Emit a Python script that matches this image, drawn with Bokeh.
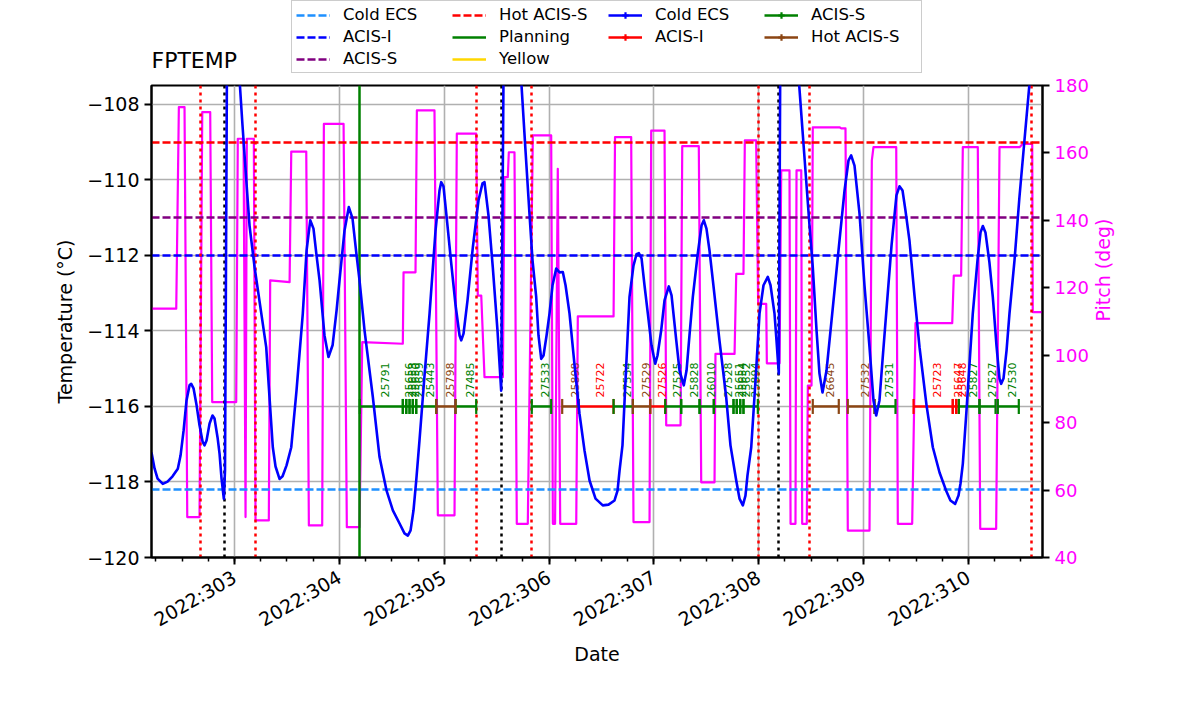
import math
from bokeh.plotting import figure
from bokeh.layouts import column
from bokeh.models import Range1d, LinearAxis, FixedTicker, Legend, LegendItem, ColumnDataSource, Label
from bokeh.core.properties import value
from bokeh.embed import file_html
from bokeh.resources import INLINE

FONT = "DejaVu Sans"

# ---------------- data ----------------
day_ticks = [303, 304, 305, 306, 307, 308, 309, 310]
day_labels = ["2022:303", "2022:304", "2022:305", "2022:306", "2022:307", "2022:308", "2022:309", "2022:310"]
temp_ticks = [-120, -118, -116, -114, -112, -110, -108]
temp_labels = ["\u2212120", "\u2212118", "\u2212116", "\u2212114", "\u2212112", "\u2212110", "\u2212108"]
pitch_ticks = [40, 60, 80, 100, 120, 140, 160, 180]

temp_time = [302.208, 302.237, 302.266, 302.316, 302.361, 302.409, 302.459, 302.485, 302.514, 302.542,
             302.571, 302.587, 302.609, 302.638, 302.666, 302.695, 302.714, 302.733, 302.762, 302.790,
             302.809, 302.838, 302.857, 302.876, 302.898, 302.909, 302.927, 302.981, 303.048, 303.076,
             303.112, 303.143, 303.191, 303.302, 303.365, 303.391, 303.429, 303.458, 303.496, 303.541,
             303.591, 303.651, 303.687, 303.722, 303.753, 303.782, 303.811, 303.858, 303.896, 303.935,
             303.973, 304.001, 304.049, 304.090, 304.125, 304.164, 304.192, 304.240, 304.319, 304.383,
             304.450, 304.510, 304.574, 304.621, 304.653, 304.679, 304.707, 304.733, 304.764, 304.812,
             304.860, 304.917, 304.955, 304.971, 304.993, 305.031, 305.067, 305.108, 305.146, 305.162,
             305.184, 305.222, 305.273, 305.327, 305.365, 305.384, 305.422, 305.463, 305.508, 305.543,
             305.565, 305.642, 305.734, 305.775, 305.813, 305.842, 305.877, 305.899, 305.925, 305.947,
             305.976, 306.004, 306.033, 306.068, 306.100, 306.131, 306.157, 306.195, 306.243, 306.290,
             306.338, 306.386, 306.443, 306.512, 306.567, 306.624, 306.653, 306.672, 306.700, 306.729,
             306.767, 306.805, 306.834, 306.856, 306.882, 306.910, 306.942, 306.977, 307.012, 307.034,
             307.069, 307.101, 307.142, 307.168, 307.213, 307.244, 307.285, 307.311, 307.339, 307.371,
             307.416, 307.454, 307.476, 307.501, 307.530, 307.562, 307.625, 307.689, 307.730, 307.785,
             307.816, 307.848, 307.873, 307.892, 307.928, 307.969, 308.007, 308.045, 308.086, 308.112,
             308.150, 308.169, 308.191, 308.204, 308.293, 308.382, 308.417, 308.452, 308.484, 308.515,
             308.551, 308.579, 308.608, 308.646, 308.694, 308.732, 308.770, 308.818, 308.856, 308.881,
             308.913, 308.961, 309.008, 309.056, 309.094, 309.120, 309.151, 309.180, 309.215, 309.266,
             309.313, 309.342, 309.371, 309.399, 309.437, 309.485, 309.533, 309.600, 309.660, 309.724,
             309.787, 309.828, 309.873, 309.905, 309.924, 309.946, 309.981, 310.041, 310.086, 310.115,
             310.137, 310.162, 310.200, 310.232, 310.267, 310.296, 310.312, 310.334, 310.363, 310.391,
             310.439, 310.486, 310.534, 310.582, 310.706]
fptemp = [-117.22, -117.64, -117.91, -118.05, -117.99, -117.85, -117.65, -117.30, -116.64, -115.84,
          -115.44, -115.40, -115.52, -115.97, -116.50, -116.93, -117.03, -116.90, -116.45, -116.24,
          -116.32, -116.82, -117.25, -117.91, -118.45, -117.70, -107.36, -105.51, -107.36, -108.56,
          -110.01, -111.21, -112.31, -114.43, -117.08, -117.59, -117.92, -117.85, -117.56, -117.08,
          -115.58, -113.54, -111.87, -111.07, -111.29, -112.00, -112.66, -114.12, -114.69, -114.38,
          -113.46, -112.66, -111.34, -110.72, -111.02, -112.00, -112.66, -113.99, -115.75, -117.34,
          -118.23, -118.75, -119.10, -119.36, -119.42, -119.28, -118.75, -117.96, -116.90, -115.18,
          -113.54, -111.34, -110.28, -110.06, -110.17, -111.21, -112.22, -113.32, -114.12, -114.25,
          -114.07, -113.19, -111.78, -110.54, -110.09, -110.06, -110.94, -112.31, -113.99, -115.58,
          -107.36, -105.50, -107.36, -109.22, -110.90, -112.13, -113.10, -114.12, -114.74, -114.65,
          -114.12, -113.54, -112.79, -112.35, -112.45, -112.44, -112.79, -113.54, -114.91, -116.19,
          -117.17, -117.96, -118.44, -118.62, -118.60, -118.49, -118.23, -117.70, -117.03, -115.31,
          -113.10, -112.27, -111.97, -111.94, -112.08, -112.79, -113.54, -114.38, -114.87, -114.65,
          -113.99, -113.19, -112.82, -113.06, -114.25, -115.05, -115.44, -115.05, -114.12, -113.10,
          -112.00, -111.21, -111.07, -111.29, -111.87, -112.66, -114.25, -115.75, -117.03, -117.96,
          -118.44, -118.62, -118.36, -117.83, -117.08, -115.31, -113.54, -112.79, -112.57, -112.79,
          -113.54, -114.25, -115.13, -107.36, -105.50, -107.36, -108.69, -110.01, -111.21, -112.31,
          -113.99, -115.13, -115.63, -115.05, -113.72, -112.66, -111.60, -110.28, -109.48, -109.35,
          -109.62, -110.90, -112.79, -114.43, -115.84, -116.24, -115.84, -114.78, -113.54, -111.74,
          -110.41, -110.17, -110.28, -110.81, -111.60, -113.06, -114.43, -115.97, -117.08, -117.75,
          -118.23, -118.49, -118.58, -118.36, -118.04, -117.52, -116.11, -113.54, -112.13, -111.39,
          -111.22, -111.39, -112.19, -113.10, -114.38, -115.26, -115.40, -115.26, -114.52, -113.54,
          -112.13, -110.46, -108.95, -107.45, -104.80]

pitch_time = [302.208, 302.444, 302.469, 302.523, 302.549, 302.666, 302.692, 302.768, 302.787, 303.016,
              303.031, 303.086, 303.105, 303.117, 303.184, 303.200, 303.327, 303.340, 303.525, 303.541,
              303.684, 303.709, 303.836, 303.852, 304.040, 304.071, 304.192, 304.218, 304.605, 304.612,
              304.726, 304.739, 304.907, 304.939, 305.098, 305.120, 305.305, 305.320, 305.353, 305.384,
              305.559, 305.575, 305.606, 305.616, 305.670, 305.692, 305.797, 305.845, 306.020, 306.036,
              306.057, 306.083, 306.106, 306.259, 306.274, 306.615, 306.629, 306.783, 306.805, 306.958,
              306.974, 307.101, 307.117, 307.254, 307.270, 307.428, 307.451, 307.578, 307.587, 307.769,
              307.785, 307.854, 307.867, 307.975, 307.994, 308.071, 308.077, 308.198, 308.214, 308.293,
              308.303, 308.350, 308.360, 308.405, 308.414, 308.458, 308.468, 308.503, 308.515, 308.770,
              308.786, 308.827, 308.849, 309.056, 309.078, 309.094, 309.311, 309.326, 309.463, 309.495,
              309.845, 309.860, 309.930, 309.946, 310.089, 310.112, 310.264, 310.296, 310.487, 310.518,
              310.608, 310.613, 310.706]
pitch = [113.8, 113.8, 173.6, 173.6, 52.0, 52.0, 172.1, 172.1, 86.1, 86.1,
         164.2, 164.2, 52.0, 164.2, 164.2, 51.0, 51.0, 122.2, 121.7, 160.4,
         160.4, 49.5, 49.5, 168.6, 168.6, 49.0, 49.0, 103.9, 103.4, 124.6,
         124.6, 172.6, 172.6, 52.5, 52.5, 165.7, 165.7, 117.7, 117.7, 93.5,
         93.5, 152.8, 152.8, 160.2, 160.2, 50.0, 50.0, 165.2, 165.2, 50.0,
         50.0, 155.3, 50.0, 50.0, 111.5, 111.5, 164.7, 164.7, 50.5, 50.5,
         166.6, 166.6, 79.2, 79.2, 162.0, 162.0, 62.3, 62.3, 100.4, 100.4,
         124.1, 124.1, 163.7, 163.7, 115.2, 115.2, 97.6, 97.6, 154.8, 154.8,
         50.0, 50.0, 154.8, 154.8, 50.0, 50.0, 91.0, 91.0, 167.6, 167.6,
         167.3, 167.3, 48.0, 48.0, 157.7, 161.7, 161.7, 50.0, 50.0, 109.5,
         109.5, 123.6, 123.6, 161.7, 161.7, 48.5, 48.5, 161.7, 161.7, 162.7,
         162.7, 112.8, 112.8]

limit_names = ["Cold ECS", "ACIS-I", "ACIS-S", "Hot ACIS-S"]
limit_values = [-118.2, -112.0, -111.0, -109.0]
limit_colors = ["dodgerblue", "blue", "purple", "red"]

red_dotted_times = [302.676, 303.203, 305.311, 305.836, 307.995, 308.487, 310.601]
black_dotted_times = [302.907, 305.546, 308.188]
green_line_times = [304.195]

obs_ids = ["25791", "25656", "25653", "25650", "25659", "25443", "25798", "27485", "27533", "25898",
           "25722", "27534", "27529", "27526", "27525", "25828", "26010", "27528", "25651", "25654",
           "25652", "25894", "26645", "27532", "27531", "25723", "25647", "25648", "25827", "27527", "27530"]
obs_start = [304.195, 304.605, 304.638, 304.669, 304.700, 304.733, 304.924, 305.108, 305.835, 306.125,
             306.284, 306.615, 306.799, 306.965, 307.108, 307.260, 307.435, 307.571, 307.759, 307.790,
             307.823, 307.854, 308.515, 308.849, 309.104, 309.476, 309.850, 309.883, 309.908, 310.105, 310.280]
obs_stop = [304.605, 304.638, 304.669, 304.700, 304.733, 304.924, 305.108, 305.305, 306.020, 306.284,
            306.615, 306.799, 306.965, 307.108, 307.260, 307.435, 307.571, 307.759, 307.790, 307.823,
            307.854, 307.991, 308.763, 309.104, 309.304, 309.850, 309.883, 309.908, 310.105, 310.258, 310.480]
obs_mode = ["ACIS-S", "ACIS-S", "ACIS-S", "ACIS-S", "ACIS-S", "ACIS-S", "Hot ACIS-S", "ACIS-S", "ACIS-S", "Hot ACIS-S",
            "ACIS-I", "ACIS-S", "Hot ACIS-S", "ACIS-I", "ACIS-S", "ACIS-S", "ACIS-S", "ACIS-S", "ACIS-S", "ACIS-S",
            "ACIS-S", "ACIS-S", "Hot ACIS-S", "Hot ACIS-S", "ACIS-S", "ACIS-I", "ACIS-I", "ACIS-I", "ACIS-S", "ACIS-S", "ACIS-S"]
obs_level = -116.0
mode_names = ["Cold ECS", "ACIS-I", "ACIS-S", "Hot ACIS-S"]
mode_colors = ["blue", "red", "green", "#8B4513"]

TOP_H = 73
FRAME_L, FRAME_W = 151, 891

# ---------------- header strip: title + legend (frames are aligned with the chart below) ----------------
head = figure(width=1184, height=TOP_H, min_border_left=FRAME_L, min_border_right=142,
              min_border_top=0, min_border_bottom=0,
              x_range=Range1d(FRAME_L, FRAME_L + FRAME_W), y_range=Range1d(0, TOP_H),
              x_axis_type=None, y_axis_type=None, output_backend="svg", toolbar_location=None)
head.outline_line_color = None
head.background_fill_color = "white"
head.border_fill_color = "white"
head.xgrid.visible = False
head.ygrid.visible = False

head.add_layout(Label(x=FRAME_L, y=13, text="FPTEMP", text_font=FONT, text_font_size="22px",
                      text_color="black", text_baseline="alphabetic", text_align="left"))

# legend proxies: placed below the visible strip, only their legend glyphs show
OFF = dict(x=[0, 1], y=[-50, -50])
h_limits = [head.line(line_color=c, line_width=2.5, line_dash="8 3", **OFF) for c in limit_colors]
h_plan = head.line(line_color="green", line_width=2.5, **OFF)
h_yellow = head.line(line_color="gold", line_width=2.5, **OFF)
h_blank = head.line(line_alpha=0, **OFF)
h_modes = {}
for mname, mcol in zip(mode_names, mode_colors):
    s = head.segment(x0=[0], y0=[-50], x1=[1], y1=[-50], line_color=mcol, line_width=2.5)
    m = head.scatter(x=[0], y=[-50], marker="cross", size=14, line_color=mcol, line_width=2.2)
    h_modes[mname] = [s, m]

items = [LegendItem(label=n, renderers=[r]) for n, r in zip(limit_names, h_limits)]
items += [LegendItem(label="Planning", renderers=[h_plan]), LegendItem(label="Yellow", renderers=[h_yellow])]
items += [LegendItem(label="Cold ECS", renderers=h_modes["Cold ECS"]),
          LegendItem(label="ACIS-I", renderers=h_modes["ACIS-I"]),
          LegendItem(label=" ", renderers=[h_blank]),
          LegendItem(label="ACIS-S", renderers=h_modes["ACIS-S"]),
          LegendItem(label="Hot ACIS-S", renderers=h_modes["Hot ACIS-S"])]
legend = Legend(items=items, orientation="vertical", nrows=3, location=(140, 0),
                label_text_font=FONT, label_text_font_size="16.5px", label_text_color="black",
                glyph_width=34, glyph_height=16, label_height=16, label_width=106,
                label_standoff=13, spacing=3, padding=4, margin=0,
                border_line_color="#cccccc", border_line_width=1.2, border_line_alpha=1.0,
                background_fill_alpha=0.8)
head.add_layout(legend)

# ---------------- main chart ----------------
p = figure(frame_width=FRAME_W, frame_height=472, title=None,
           min_border_left=FRAME_L, min_border_right=142, min_border_top=85 - TOP_H, min_border_bottom=141,
           x_range=Range1d(302.208, 310.706), y_range=Range1d(-120, -107.5),
           output_backend="svg", toolbar_location=None)
p.background_fill_color = "white"
p.border_fill_color = "white"
p.outline_line_color = "black"
p.outline_line_width = 2
p.outline_line_alpha = 1.0

p.extra_y_ranges = {"pitch": Range1d(40, 180)}

xticker = FixedTicker(ticks=day_ticks,
                      minor_ticks=[d + q for d in range(302, 311) for q in (0.0, 0.25, 0.5, 0.75)])
yticker = FixedTicker(ticks=temp_ticks, minor_ticks=[])

xax = p.xaxis[0]
xax.ticker = xticker
xax.major_label_overrides = dict(zip(day_ticks, day_labels))
xax.major_label_orientation = math.pi / 6
xax.axis_label = "Date"

yax = p.yaxis[0]
yax.ticker = yticker
yax.major_label_overrides = dict(zip(temp_ticks, temp_labels))
yax.axis_label = "Temperature (\u00b0C)"

rax = LinearAxis(y_range_name="pitch", ticker=FixedTicker(ticks=pitch_ticks, minor_ticks=[]),
                 axis_label="Pitch (deg)")
p.add_layout(rax, "right")

for ax in (xax, yax, rax):
    ax.axis_line_width = 2
    ax.major_tick_line_width = 2
    ax.major_tick_out = 7
    ax.major_tick_in = 0
    ax.minor_tick_line_width = 1.5
    ax.minor_tick_out = 4
    ax.minor_tick_in = 0
    ax.major_label_text_font = FONT
    ax.major_label_text_font_size = "19px"
    ax.major_label_text_color = "black"
    ax.major_label_standoff = 5
    ax.axis_label_text_font = FONT
    ax.axis_label_text_font_size = "19px"
    ax.axis_label_text_font_style = "normal"
    ax.axis_label_text_color = "black"
    ax.axis_label_standoff = 8
xax.axis_label_standoff = 0
xax.major_label_standoff = 11
rax.major_label_text_color = "magenta"
rax.major_label_text_font_size = "18px"
rax.axis_label_text_color = "magenta"
rax.axis_label_standoff = 11
rax.axis_label_orientation = math.pi / 2

p.xgrid.ticker = xticker
p.ygrid.ticker = yticker
for g in (p.xgrid[0], p.ygrid[0]):
    g.grid_line_color = "#b0b0b0"
    g.grid_line_width = 1.6

# pitch (behind everything)
p.line(pitch_time, pitch, y_range_name="pitch", line_color="magenta", line_width=2.2, line_join="round")

# limit lines
for name, v, c in zip(limit_names, limit_values, limit_colors):
    p.hspan(y=[v], line_color=c, line_width=2.5, line_dash="8 3")

# vertical event lines
p.vspan(x=red_dotted_times, line_color="red", line_width=2.5, line_dash="3 4")
p.vspan(x=black_dotted_times, line_color="black", line_width=2.5, line_dash="3 4")
p.vspan(x=green_line_times, line_color="green", line_width=2.5)

# obsid bars
for mname, mcol in zip(mode_names, mode_colors):
    idx = [i for i, m in enumerate(obs_mode) if m == mname]
    src = ColumnDataSource(dict(
        start=[obs_start[i] for i in idx],
        stop=[obs_stop[i] for i in idx],
        mid=[(obs_start[i] + obs_stop[i]) / 2 for i in idx],
        lvl=[obs_level for i in idx],
        label=[obs_ids[i] for i in idx],
    ))
    p.segment(x0="start", y0="lvl", x1="stop", y1="lvl", source=src, line_color=mcol, line_width=2.5)
    p.scatter(x="start", y="lvl", source=src, marker="dash", angle=math.pi / 2, size=15,
              line_color=mcol, line_width=2.2)
    p.scatter(x="stop", y="lvl", source=src, marker="dash", angle=math.pi / 2, size=15,
              line_color=mcol, line_width=2.2)
    p.text(x="mid", y="lvl", text="label", source=src, angle=math.pi / 2, text_align="left",
           text_baseline="top", y_offset=-9, text_font=value(FONT), text_font_size="11px",
           text_color=mcol)

# temperature model (on top)
p.line(temp_time, fptemp, line_color="blue", line_width=2.6, line_join="round")

layout = column(head, p, spacing=0)
open("out.html", "w").write(file_html(layout, INLINE))
